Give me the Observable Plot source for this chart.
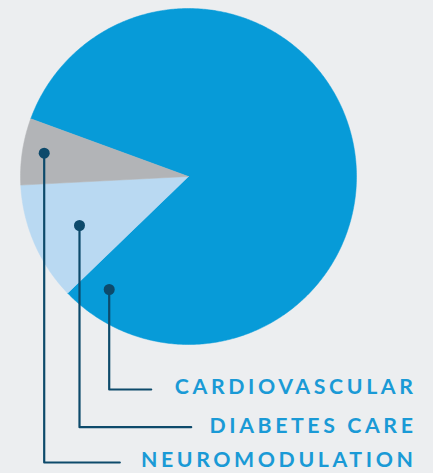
<!DOCTYPE html>
<html>
<head>
<meta charset="utf-8">
<script src="https://cdn.jsdelivr.net/npm/d3@7"></script>
<script src="https://cdn.jsdelivr.net/npm/@observablehq/plot@0.6"></script>
<style>
  html, body { margin: 0; padding: 0; background: #eceef0; }
  #chart svg text { letter-spacing: 3.6px; }
</style>
</head>
<body>
<div id="chart"></div>
<script>
// ---- data ----
const categories = ["CARDIOVASCULAR", "DIABETES CARE", "NEUROMODULATION"];
const shares = [82.2, 11.4, 6.4];
const sliceColors = ["#079bd8", "#b9d9f2", "#b2b4b7"];

// ---- layout ----
const W = 433, H = 473;
const cx = 188, cy = 176, R = 168;
const startDeg = -69.9;              // clockwise from 12 o'clock
const dotPos = [[108.7, 289], [79, 225], [43.7, 152.7]];
const elbowY = [389, 426.7, 462];
const lineEndX = [150.7, 190.7, 119.3];
const labelY = [387, 425.5, 459.5];

const data = categories.map((c, i) => ({name: c, value: shares[i]}));
const pie = d3.pie().sort(null).value(d => d.value).startAngle(startDeg * Math.PI / 180)
  .endAngle(startDeg * Math.PI / 180 + 2 * Math.PI);
const arcs = pie(data);

const slicePts = [];
arcs.forEach(a => {
  slicePts.push({name: a.data.name, x: cx, y: cy});
  const n = Math.max(2, Math.ceil((a.endAngle - a.startAngle) / 0.01));
  for (let k = 0; k <= n; k++) {
    const t = a.startAngle + (a.endAngle - a.startAngle) * k / n;
    slicePts.push({name: a.data.name, x: cx + R * Math.sin(t), y: cy - R * Math.cos(t)});
  }
  slicePts.push({name: a.data.name, x: cx, y: cy});
});

const leaderPts = [];
categories.forEach((c, i) => {
  leaderPts.push({name: c, x: dotPos[i][0], y: dotPos[i][1]});
  leaderPts.push({name: c, x: dotPos[i][0], y: elbowY[i]});
  leaderPts.push({name: c, x: lineEndX[i], y: elbowY[i]});
});
const dots = categories.map((c, i) => ({name: c, x: dotPos[i][0], y: dotPos[i][1]}));
const labels = categories.map((c, i) => ({name: c, x: 416, y: labelY[i]}));

const chart = Plot.plot({
  width: W, height: H,
  margin: 0,
  x: {domain: [0, W], range: [0, W], axis: null},
  y: {domain: [0, H], range: [0, H], axis: null},
  color: {domain: categories, range: sliceColors},
  style: {background: "#eceef0", overflow: "visible"},
  marks: [
    Plot.line(slicePts, {x: "x", y: "y", z: "name", fill: "name", stroke: "name", strokeWidth: 0.5}),
    Plot.line(leaderPts, {x: "x", y: "y", z: "name", stroke: "#0d4a6b", strokeWidth: 2.2, strokeLinejoin: "round"}),
    Plot.dot(dots, {x: "x", y: "y", r: 5.5, fill: "#0d4a6b", stroke: "none"}),
    Plot.text(labels, {x: "x", y: "y", text: "name", textAnchor: "end", lineAnchor: "middle",
      fill: "#1a9ad6", fontSize: 21.3, fontWeight: 700, fontFamily: "Lato, sans-serif"})
  ]
});
document.getElementById("chart").appendChild(chart);
</script>
</body>
</html>
